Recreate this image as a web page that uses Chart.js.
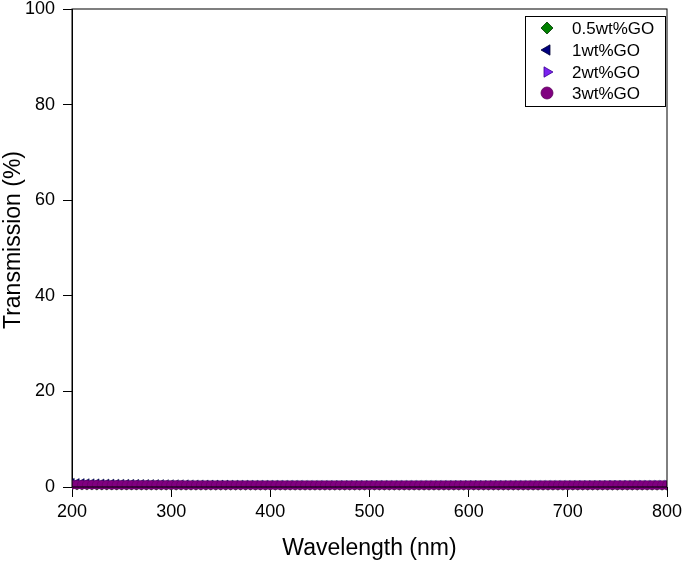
<!DOCTYPE html>
<html>
<head>
<meta charset="utf-8">
<script src="https://cdn.jsdelivr.net/npm/chart.js@4.4.1/dist/chart.umd.min.js"></script>
<style>
  html, body { margin: 0; padding: 0; background: #fff; }
  #wrap { width: 685px; height: 564px; position: relative; }
</style>
</head>
<body>
<div id="wrap"><canvas id="transChart"></canvas></div>
<script>
// wavelength (nm), every 5 nm
const wavelength = [
  200,205,210,215,220,225,230,235,240,245,
  250,255,260,265,270,275,280,285,290,295,
  300,305,310,315,320,325,330,335,340,345,
  350,355,360,365,370,375,380,385,390,395,
  400,405,410,415,420,425,430,435,440,445,
  450,455,460,465,470,475,480,485,490,495,
  500,505,510,515,520,525,530,535,540,545,
  550,555,560,565,570,575,580,585,590,595,
  600,605,610,615,620,625,630,635,640,645,
  650,655,660,665,670,675,680,685,690,695,
  700,705,710,715,720,725,730,735,740,745,
  750,755,760,765,770,775,780,785,790,795,
  800
];

// transmission (%) for each sample
const go05 = [
  0.30,0.30,0.29,0.29,0.29,0.28,0.28,0.28,0.28,0.27,
  0.27,0.27,0.27,0.27,0.26,0.26,0.26,0.26,0.26,0.26,
  0.25,0.25,0.25,0.25,0.25,0.25,0.25,0.25,0.25,0.25,
  0.25,0.25,0.25,0.25,0.25,0.25,0.25,0.25,0.25,0.25,
  0.25,0.25,0.25,0.25,0.25,0.25,0.25,0.25,0.25,0.25,
  0.25,0.25,0.25,0.25,0.25,0.25,0.25,0.25,0.25,0.25,
  0.25,0.25,0.25,0.25,0.25,0.25,0.25,0.25,0.25,0.25,
  0.25,0.25,0.25,0.25,0.25,0.25,0.25,0.25,0.25,0.25,
  0.25,0.25,0.25,0.25,0.25,0.25,0.25,0.25,0.25,0.25,
  0.25,0.25,0.25,0.25,0.25,0.25,0.25,0.25,0.25,0.25,
  0.25,0.25,0.25,0.25,0.25,0.25,0.25,0.25,0.25,0.25,
  0.25,0.25,0.25,0.25,0.25,0.25,0.25,0.25,0.25,0.25,
  0.25
];
const go1 = [
  1.00,0.97,0.95,0.93,0.91,0.89,0.87,0.86,0.84,0.83,
  0.81,0.80,0.79,0.78,0.77,0.76,0.75,0.74,0.73,0.72,
  0.71,0.70,0.69,0.68,0.67,0.66,0.66,0.65,0.64,0.64,
  0.63,0.63,0.62,0.62,0.61,0.61,0.60,0.60,0.60,0.59,
  0.59,0.59,0.58,0.58,0.58,0.58,0.58,0.57,0.57,0.57,
  0.57,0.57,0.57,0.57,0.57,0.57,0.57,0.57,0.57,0.57,
  0.57,0.57,0.57,0.57,0.57,0.57,0.57,0.57,0.57,0.57,
  0.57,0.57,0.57,0.57,0.57,0.57,0.57,0.57,0.57,0.57,
  0.57,0.57,0.57,0.57,0.57,0.57,0.57,0.57,0.57,0.57,
  0.57,0.57,0.57,0.57,0.57,0.57,0.57,0.57,0.57,0.57,
  0.57,0.57,0.57,0.57,0.57,0.57,0.57,0.57,0.57,0.57,
  0.57,0.57,0.57,0.57,0.57,0.57,0.57,0.57,0.57,0.57,
  0.57
];
const go2 = [
  0.60,0.59,0.59,0.58,0.58,0.57,0.57,0.57,0.56,0.56,
  0.56,0.55,0.55,0.55,0.55,0.54,0.54,0.54,0.54,0.54,
  0.53,0.53,0.53,0.53,0.53,0.53,0.53,0.53,0.53,0.53,
  0.53,0.53,0.53,0.53,0.53,0.53,0.53,0.53,0.53,0.53,
  0.53,0.53,0.53,0.53,0.53,0.53,0.53,0.53,0.53,0.53,
  0.53,0.53,0.53,0.53,0.53,0.53,0.53,0.53,0.53,0.53,
  0.53,0.53,0.53,0.53,0.53,0.53,0.53,0.53,0.53,0.53,
  0.53,0.53,0.53,0.53,0.53,0.53,0.53,0.53,0.53,0.53,
  0.53,0.53,0.53,0.53,0.53,0.53,0.53,0.53,0.53,0.54,
  0.54,0.54,0.54,0.54,0.54,0.54,0.54,0.55,0.55,0.55,
  0.55,0.55,0.56,0.56,0.56,0.56,0.57,0.57,0.57,0.58,
  0.58,0.58,0.59,0.59,0.59,0.60,0.60,0.60,0.61,0.61,
  0.62
];
const go3 = [
  0.48,0.47,0.46,0.46,0.45,0.45,0.44,0.44,0.43,0.43,
  0.43,0.42,0.42,0.42,0.41,0.41,0.41,0.41,0.40,0.40,
  0.40,0.40,0.40,0.39,0.39,0.39,0.39,0.39,0.39,0.38,
  0.38,0.38,0.38,0.38,0.38,0.38,0.38,0.37,0.37,0.37,
  0.37,0.37,0.37,0.37,0.37,0.37,0.37,0.37,0.37,0.37,
  0.37,0.37,0.37,0.37,0.37,0.37,0.37,0.37,0.37,0.37,
  0.37,0.37,0.37,0.37,0.37,0.37,0.37,0.37,0.37,0.37,
  0.37,0.37,0.37,0.37,0.37,0.37,0.37,0.37,0.37,0.37,
  0.37,0.37,0.37,0.37,0.37,0.37,0.37,0.37,0.37,0.37,
  0.37,0.37,0.37,0.37,0.37,0.37,0.37,0.37,0.37,0.37,
  0.37,0.37,0.37,0.37,0.37,0.37,0.37,0.37,0.37,0.37,
  0.37,0.37,0.37,0.37,0.37,0.37,0.37,0.37,0.37,0.37,
  0.37
];

const seriesLabels = ['0.5wt%GO', '1wt%GO', '2wt%GO', '3wt%GO'];
const xTicks = [200, 300, 400, 500, 600, 700, 800];
const yTicks = [0, 20, 40, 60, 80, 100];

const FONT = "'Liberation Sans', Arial, sans-serif";

function pts(ys) {
  return wavelength.map((x, i) => ({ x: x, y: ys[i] }));
}

const styles = [
  { fill: '#008000', edge: '#003300', shape: 'rectRot', rot: 0, r: 4.5 },
  { fill: '#000080', edge: '#000033', shape: 'triangle', rot: -90, r: 4.5 },
  { fill: '#7b22f0', edge: '#3a0090', shape: 'triangle', rot: 90, r: 4.5 },
  { fill: '#800080', edge: '#5a005a', shape: 'circle', rot: 0, r: 4.5 }
];
const values = [go05, go1, go2, go3];

const datasets = values.map((v, i) => ({
  label: seriesLabels[i],
  data: pts(v),
  showLine: false,
  pointStyle: styles[i].shape,
  pointRotation: styles[i].rot,
  pointRadius: styles[i].r,
  pointBackgroundColor: styles[i].fill,
  pointBorderColor: styles[i].edge,
  pointBorderWidth: 0.5,
  order: 3 - i,   // 3wt% on top
  clip: { left: 0, right: 0, top: false, bottom: false }
}));

// frame, axis titles and legend box
const decorations = {
  id: 'decorations',
  afterDraw(chart) {
    const ctx = chart.ctx;
    const a = chart.chartArea;
    ctx.save();
    ctx.strokeStyle = '#000';
    ctx.lineWidth = 1;
    ctx.strokeRect(a.left, a.top, a.right - a.left, a.bottom - a.top);

    ctx.fillStyle = '#000';
    ctx.font = '23px ' + FONT;
    ctx.textAlign = 'center';
    ctx.textBaseline = 'middle';
    ctx.fillText('Wavelength (nm)', (a.left + a.right) / 2, 549);
    ctx.save();
    ctx.translate(14, 240);
    ctx.rotate(-Math.PI / 2);
    ctx.fillText('Transmission (%)', 0, 0);
    ctx.restore();

    // legend
    const bx = 525, by = 16, bw = 140, bh = 90;
    ctx.fillStyle = '#fff';
    ctx.fillRect(bx, by, bw, bh);
    ctx.strokeRect(bx + 0.5, by + 0.5, bw, bh);
    const rows = [28, 50, 72, 93];
    ctx.font = '17px ' + FONT;
    ctx.textAlign = 'left';
    seriesLabels.forEach((lab, i) => {
      const s = styles[i];
      ctx.fillStyle = s.fill;
      ctx.strokeStyle = s.edge;
      ctx.lineWidth = 0.8;
      Chart.helpers.drawPoint(ctx, {
        pointStyle: s.shape, rotation: s.rot, radius: 6, borderWidth: 0.8
      }, 547, rows[i]);
      ctx.fillStyle = '#000';
      ctx.fillText(lab, 572, rows[i] + 1);
    });
    ctx.restore();
  }
};

new Chart(document.getElementById('transChart'), {
  type: 'scatter',
  data: { datasets: datasets },
  options: {
    responsive: true,
    maintainAspectRatio: false,
    animation: false,
    layout: { padding: { top: 9, right: 18, left: 0, bottom: 0 } },
    plugins: {
      legend: { display: false },
      tooltip: { enabled: false }
    },
    scales: {
      x: {
        type: 'linear',
        min: 200,
        max: 800,
        afterFit: (s) => { s.height = 77; s.paddingLeft = 0; s.paddingRight = 0; },
        afterBuildTicks: (s) => { s.ticks = xTicks.map(v => ({ value: v })); },
        grid: { display: true, drawOnChartArea: false, drawTicks: true, tickLength: 10, color: '#000' },
        border: { display: true, color: '#000', width: 1 },
        ticks: { color: '#000', font: { family: FONT, size: 18 }, padding: 4, maxRotation: 0 }
      },
      y: {
        min: 0,
        max: 100,
        afterFit: (s) => { s.width = 72; s.paddingTop = 0; s.paddingBottom = 0; },
        afterBuildTicks: (s) => { s.ticks = yTicks.map(v => ({ value: v })); },
        grid: { display: true, drawOnChartArea: false, drawTicks: true, tickLength: 9, color: '#000' },
        border: { display: true, color: '#000', width: 1 },
        ticks: { color: '#000', font: { family: FONT, size: 18 }, padding: 8 }
      }
    }
  },
  plugins: [decorations]
});
</script>
</body>
</html>
